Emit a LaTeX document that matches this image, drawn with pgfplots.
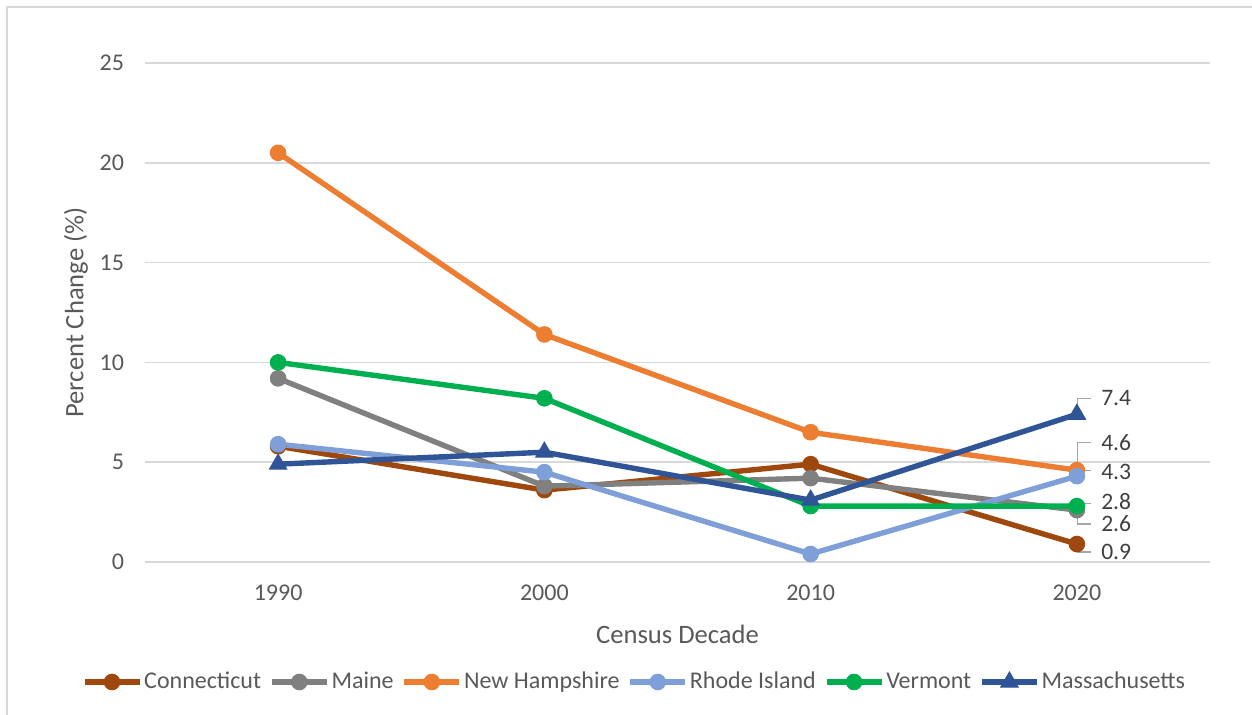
\documentclass[border=0pt]{standalone}
\usepackage{fontspec}
\setmainfont{Carlito}
\usepackage{pgfplots}
\pgfplotsset{compat=1.18}
\definecolor{cCT}{HTML}{9E480E}
\definecolor{cME}{HTML}{808080}
\definecolor{cNH}{HTML}{ED7D31}
\definecolor{cRI}{HTML}{7F9FD9}
\definecolor{cVT}{HTML}{00B050}
\definecolor{cMA}{HTML}{2F5597}
\definecolor{gridc}{HTML}{D9D9D9}
\definecolor{txt}{HTML}{595959}
\definecolor{lbl}{HTML}{404040}
\definecolor{lead}{HTML}{A6A6A6}
\begin{document}
\begin{tikzpicture}
\useasboundingbox (-72.5pt,-76.5pt) rectangle (553.5pt,281pt);
\begin{scope}
\clip (-72.5pt,-76.5pt) rectangle (553.5pt,281pt);
\draw[gridc,line width=0.9pt] (-69pt,-90pt) -- (-69pt,277.5pt) -- (570pt,277.5pt);
\end{scope}
\begin{axis}[
  at={(0pt,0pt)}, anchor=south west,
  scale only axis, width=532.5pt, height=249.5pt,
  xmin=-0.5, xmax=3.5, ymin=0, ymax=25,
  xtick={0,1,2,3}, xticklabels={1990,2000,2010,2020},
  ytick={0,5,10,15,20,25},
  axis line style={draw=none},
  major tick length=0pt,
  xmajorgrids=false, ymajorgrids=true, grid style={draw=gridc,line width=0.75pt},
  tick label style={font=\fontsize{12}{14}\selectfont, text=txt},
  /pgf/number format/assume math mode=true,
  yticklabel style={xshift=-7pt},
  xticklabel style={yshift=-8pt},
  xlabel={Census Decade}, ylabel={Percent Change (\%)},
  label style={font=\fontsize{13.3}{15}\selectfont, text=txt},
  xlabel style={yshift=-5pt},
  ylabel style={yshift=-1pt},
  every axis plot/.append style={line width=2.7pt, mark size=3.9pt, mark options={line width=0.5pt}},
  legend style={draw=none, fill=none, font=\fontsize{12}{14}\selectfont, text=txt,
    at={(0.4596,-0.2405)}, anchor=center, legend columns=6,
    nodes={inner sep=1pt},
    /tikz/every odd column/.append style={column sep=0pt},
    /tikz/every even column/.append style={column sep=3pt}},
  legend cell align=left,
  legend image code/.code={\draw[#1,mark repeat=2,mark phase=2] plot coordinates {(0pt,0pt)(13.75pt,0pt)(27.5pt,0pt)};},
]
\addplot[cCT, mark=*] coordinates {(0,5.8) (1,3.6) (2,4.9) (3,0.9)};
\addlegendentry{Connecticut}
\addplot[cME, mark=*] coordinates {(0,9.2) (1,3.8) (2,4.2) (3,2.6)};
\addlegendentry{Maine}
\addplot[cNH, mark=*] coordinates {(0,20.5) (1,11.4) (2,6.5) (3,4.6)};
\addlegendentry{New Hampshire}
\addplot[cRI, mark=*] coordinates {(0,5.9) (1,4.5) (2,0.4) (3,4.3)};
\addlegendentry{Rhode Island}
\addplot[cVT, mark=*] coordinates {(0,10.0) (1,8.2) (2,2.8) (3,2.8)};
\addlegendentry{Vermont}
\addplot[cMA, mark=triangle*, mark size=5pt] coordinates {(0,4.9) (1,5.5) (2,3.1) (3,7.4)};
\addlegendentry{Massachusetts}
% leader lines
\tikzset{ld/.style={draw=lead, line width=0.6pt}}
\draw[ld] ([xshift=0.5pt,yshift=3pt]axis cs:3,7.4) -- ([xshift=0.5pt,yshift=8pt]axis cs:3,7.4) -- ([xshift=7pt,yshift=8pt]axis cs:3,7.4);
\draw[ld] ([xshift=0.5pt,yshift=2pt]axis cs:3,4.6) -- ([xshift=0.5pt,yshift=14pt]axis cs:3,4.6) -- ([xshift=7pt,yshift=14pt]axis cs:3,4.6);
\draw[ld] ([xshift=3pt,yshift=3pt]axis cs:3,4.3) -- ([xshift=7pt,yshift=3pt]axis cs:3,4.3);
\draw[ld] ([xshift=3pt,yshift=1.5pt]axis cs:3,2.8) -- ([xshift=7pt,yshift=1.5pt]axis cs:3,2.8);
\draw[ld] ([xshift=0.5pt,yshift=-2pt]axis cs:3,2.6) -- ([xshift=0.5pt,yshift=-7pt]axis cs:3,2.6) -- ([xshift=7pt,yshift=-7pt]axis cs:3,2.6);
\draw[ld] ([xshift=0.5pt,yshift=-1pt]axis cs:3,0.9) -- ([xshift=0.5pt,yshift=-4pt]axis cs:3,0.9) -- ([xshift=7pt,yshift=-4pt]axis cs:3,0.9);
% data labels
\tikzset{dl/.style={anchor=west, inner sep=0pt, text=lbl, font=\fontsize{11.8}{13}\selectfont}}
\node[dl] at ([xshift=12pt,yshift=8pt]axis cs:3,7.4) {7.4};
\node[dl] at ([xshift=12pt,yshift=14pt]axis cs:3,4.6) {4.6};
\node[dl] at ([xshift=12pt,yshift=2pt]axis cs:3,4.3) {4.3};
\node[dl] at ([xshift=12pt,yshift=2.5pt]axis cs:3,2.8) {2.8};
\node[dl] at ([xshift=12pt,yshift=-7pt]axis cs:3,2.6) {2.6};
\node[dl] at ([xshift=12pt,yshift=-4pt]axis cs:3,0.9) {0.9};
\end{axis}
\end{tikzpicture}
\end{document}
